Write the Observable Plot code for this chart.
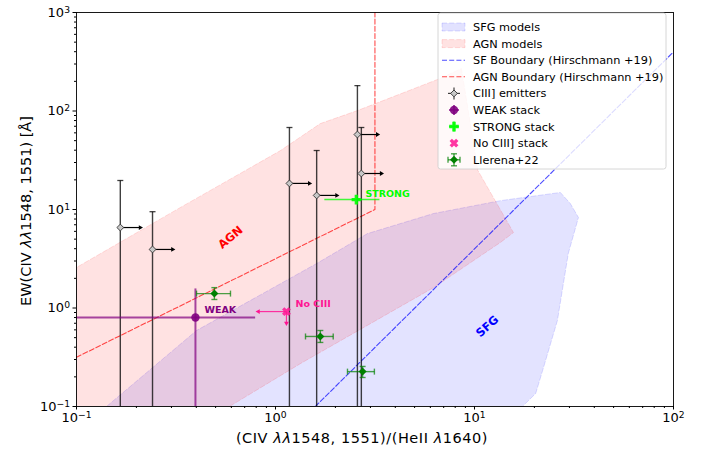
<!DOCTYPE html>
<html><head><meta charset="utf-8">
<script src="https://cdn.jsdelivr.net/npm/d3@7"></script>
<script src="https://cdn.jsdelivr.net/npm/@observablehq/plot@0.6"></script>
<style>body{margin:0;background:#fff;} svg{font-family:"DejaVu Sans";}</style>
</head><body><div id="chart"></div>
<script>
// ---------- data ----------
const sfgRatio = [0.117, 0.1415, 0.401, 1.61, 2.90, 6.22, 13.5, 27.0, 30.3, 33.3, 29.6, 26.1, 22.0, 20.3, 17.4, 16.1];
const sfgEW    = [0.072, 0.1,    0.591, 2.83, 5.70, 9.10, 12.3, 14.9, 11.5, 8.30, 3.57, 0.746, 0.232, 0.1355, 0.1, 0.072];
const agnRatio = [0.066, 0.1, 0.333, 1.06, 1.68, 2.58, 6.52, 8.6, 10.4, 15.7, 13.5, 6.22, 1.34, 0.587, 0.42, 0.066];
const agnEW    = [1.58, 2.58, 10.5, 39.7, 74.6, 101, 209, 270, 24.9, 5.83, 4.63, 1.61, 0.274, 0.1, 0.057, 0.057];
const agnBoundRatio = [0.1, 3.16, 3.16];
const agnBoundEW = [0.316, 10, 1000];
const sfBoundRatio = [1.585, 100];
const sfBoundEW = [0.1, 398];

const ciiiRatio = [0.166, 0.241, 1.175, 1.61, 2.58, 2.70];
const ciiiEW    = [6.56, 3.93, 18.4, 13.9, 57.7, 23.2];
const ciiiEWhi  = [19.7, 9.5, 68, 39.7, 181, 68];
const ciiiEWlo  = [0.01, 0.01, 0.01, 0.01, 0.01, 0.01];
const ciiiRatioLimit = [0.209, 0.304, 1.48, 2.03, 3.25, 3.40];

const weakRatio = [0.396], weakEW = [0.80];
const weakRatioLo = [0.01], weakRatioHi = [0.79];
const weakEWlo = [0.01], weakEWhi = [1.58];

const strongRatio = [2.55], strongEW = [12.6];
const strongRatioLo = [1.76], strongRatioHi = [3.33];

const noRatio = [1.135], noEW = [0.92];
const noRatioLimit = [0.82], noEWLimit = [0.70];

const llRatio   = [0.493, 1.68, 2.74];
const llEW      = [1.40, 0.514, 0.226];
const llRatioLo = [0.401, 1.415, 2.30];
const llRatioHi = [0.594, 1.95, 3.14];
const llEWlo    = [1.22, 0.447, 0.197];
const llEWhi    = [1.61, 0.591, 0.255];

const majorX = [0.1, 1, 10, 100];
const majorY = [0.1, 1, 10, 100, 1000];
const tickText = {"0.1": "10⁻¹", "1": "10⁰", "10": "10¹", "100": "10²", "1000": "10³"};
const legendLabels = ["SFG models", "AGN models", "SF Boundary (Hirschmann +19)", "AGN Boundary (Hirschmann +19)",
  "CIII] emitters", "WEAK stack", "STRONG stack", "No CIII] stack", "Llerena+22"];

// ---------- helpers ----------
const rows = (...cols) => cols[0].map((_, i) => cols.map(c => c[i]));
const minors = (lo, hi) => { const out = []; for (let e = lo; e < hi; e++) for (let m = 2; m <= 9; m++) out.push(m * Math.pow(10, e)); return out; };
const minorX = minors(-1, 2), minorY = minors(-1, 3);

const crossPts = (r, t) => [[-t,-r],[t,-r],[t,-t],[r,-t],[r,t],[t,t],[t,r],[-t,r],[-t,t],[-r,t],[-r,-t],[-t,-t]];
const polySym = (fn) => ({draw(ctx, size) { const r = Math.sqrt(size / Math.PI); const p = fn(r); ctx.moveTo(p[0][0], p[0][1]); for (let i = 1; i < p.length; i++) ctx.lineTo(p[i][0], p[i][1]); ctx.closePath(); }});
const plusSym = polySym(r => crossPts(r, r * 0.36));
const xSym = polySym(r => crossPts(r, r * 0.36).map(([a, b]) => [(a - b) * Math.SQRT1_2, (a + b) * Math.SQRT1_2]));
const diamondSym = polySym(r => [[0,-r],[r,0],[0,r],[-r,0]]);
const hcap = {draw(ctx, size) { const h = Math.sqrt(size / Math.PI); ctx.moveTo(-h, 0); ctx.lineTo(h, 0); }};
const vcap = {draw(ctx, size) { const h = Math.sqrt(size / Math.PI); ctx.moveTo(0, -h); ctx.lineTo(0, h); }};

const sfg = rows(sfgRatio, sfgEW);
const agn = rows(agnRatio, agnEW);
const agnB = rows(agnBoundRatio, agnBoundEW);
const sfB = rows(sfBoundRatio, sfBoundEW);
const ciii = ciiiRatio.map((x, i) => ({x, y: ciiiEW[i], hi: ciiiEWhi[i], lo: ciiiEWlo[i], lim: ciiiRatioLimit[i]}));
const weak = weakRatio.map((x, i) => ({x, y: weakEW[i], xlo: weakRatioLo[i], xhi: weakRatioHi[i], ylo: weakEWlo[i], yhi: weakEWhi[i]}));
const strong = strongRatio.map((x, i) => ({x, y: strongEW[i], xlo: strongRatioLo[i], xhi: strongRatioHi[i]}));
const noc = noRatio.map((x, i) => ({x, y: noEW[i], xl: noRatioLimit[i], yl: noEWLimit[i]}));
const ll = llRatio.map((x, i) => ({x, y: llEW[i], xlo: llRatioLo[i], xhi: llRatioHi[i], ylo: llEWlo[i], yhi: llEWhi[i]}));

const PURPLE = "#800080", LIME = "#00ff00", PINK = "#ff1493", GREEN = "#008000";
const DASH = "5,2.2";

const plot = Plot.plot({
  width: 702, height: 450,
  marginLeft: 76, marginRight: 29, marginTop: 12, marginBottom: 44,
  x: {type: "log", domain: [0.1, 100]},
  y: {type: "log", domain: [0.1, 1000]},
  style: {fontFamily: "DejaVu Sans", fontSize: "12px", color: "black", background: "white"},
  marks: [
    // model regions
    Plot.line(sfg, {x: "0", y: "1", curve: "linear-closed", fill: "blue", fillOpacity: 0.11, stroke: "blue", strokeOpacity: 0.13, strokeWidth: 1, strokeDasharray: DASH, clip: true}),
    Plot.line(agn, {x: "0", y: "1", curve: "linear-closed", fill: "red", fillOpacity: 0.115, stroke: "red", strokeOpacity: 0.12, strokeWidth: 1, strokeDasharray: DASH, clip: true}),
    // boundaries
    Plot.line(sfB, {x: "0", y: "1", stroke: "blue", strokeOpacity: 0.7, strokeWidth: 1.1, strokeDasharray: DASH, clip: true}),
    Plot.line(agnB, {x: "0", y: "1", stroke: "red", strokeOpacity: 0.7, strokeWidth: 1.1, strokeDasharray: DASH, clip: true}),
    // region labels
    Plot.text([{x: 0.594, y: 5.2, t: "AGN"}], {x: "x", y: "y", text: "t", fill: "red", fontWeight: "bold", fontSize: 11.5, rotate: -40}),
    Plot.text([{x: 11.6, y: 0.648, t: "SFG"}], {x: "x", y: "y", text: "t", fill: "blue", fontWeight: "bold", fontSize: 11.5, rotate: -42}),
    // CIII] emitters
    Plot.link(ciii, {x1: "x", x2: "x", y1: "lo", y2: "hi", stroke: "black", strokeOpacity: 0.75, strokeWidth: 1.4, clip: true}),
    Plot.dot(ciii, {x: "x", y: "hi", symbol: hcap, r: 3, stroke: "black", strokeOpacity: 0.75, strokeWidth: 1.3}),
    Plot.link(ciii, {x1: "x", x2: "lim", y1: "y", y2: "y", stroke: "black", strokeWidth: 1.2}),
    Plot.dot(ciii, {x: "lim", y: "y", symbol: "triangle2", rotate: 90, r: 2.3, fill: "black"}),
    Plot.dot(ciii, {x: "x", y: "y", symbol: diamondSym, r: 3.4, fill: "#c8c8c8", stroke: "#333", strokeWidth: 0.9}),
    // WEAK
    Plot.link(weak, {x1: "xlo", x2: "xhi", y1: "y", y2: "y", stroke: PURPLE, strokeOpacity: 0.7, strokeWidth: 2, clip: true}),
    Plot.link(weak, {x1: "x", x2: "x", y1: "ylo", y2: "yhi", stroke: PURPLE, strokeOpacity: 0.7, strokeWidth: 2, clip: true}),
    Plot.dot(weak, {x: "x", y: "y", r: 4.2, fill: PURPLE, fillOpacity: 0.9}),
    Plot.text([{x: 0.44, y: 0.966, t: "WEAK"}], {x: "x", y: "y", text: "t", fill: PURPLE, fontWeight: "bold", fontSize: 9.5, textAnchor: "start"}),
    // STRONG
    Plot.link(strong, {x1: "xlo", x2: "xhi", y1: "y", y2: "y", stroke: LIME, strokeOpacity: 0.75, strokeWidth: 1.5}),
    Plot.dot(strong, {x: "x", y: "y", symbol: plusSym, r: 4.8, fill: LIME, fillOpacity: 0.9}),
    Plot.text([{x: 2.83, y: 14.5, t: "STRONG"}], {x: "x", y: "y", text: "t", fill: LIME, fontWeight: "bold", fontSize: 9.5, textAnchor: "start"}),
    // No CIII]
    Plot.link(noc, {x1: "x", x2: "xl", y1: "y", y2: "y", stroke: PINK, strokeOpacity: 0.85, strokeWidth: 1.2}),
    Plot.dot(noc, {x: "xl", y: "y", symbol: "triangle2", rotate: -90, r: 2.3, fill: PINK}),
    Plot.link(noc, {x1: "x", x2: "x", y1: "y", y2: "yl", stroke: PINK, strokeOpacity: 0.85, strokeWidth: 1.2}),
    Plot.dot(noc, {x: "x", y: "yl", symbol: "triangle2", rotate: 180, r: 2.3, fill: PINK}),
    Plot.dot(noc, {x: "x", y: "y", symbol: xSym, r: 4.6, fill: PINK, fillOpacity: 0.85}),
    Plot.text([{x: 1.26, y: 1.11, t: "No CIII"}], {x: "x", y: "y", text: "t", fill: PINK, fontWeight: "bold", fontSize: 9.5, textAnchor: "start"}),
    // Llerena+22
    Plot.link(ll, {x1: "xlo", x2: "xhi", y1: "y", y2: "y", stroke: GREEN, strokeOpacity: 0.7, strokeWidth: 1.4}),
    Plot.link(ll, {x1: "x", x2: "x", y1: "ylo", y2: "yhi", stroke: GREEN, strokeOpacity: 0.7, strokeWidth: 1.4}),
    Plot.dot(ll, {x: "xlo", y: "y", symbol: vcap, r: 3, stroke: GREEN, strokeOpacity: 0.7, strokeWidth: 1.4}),
    Plot.dot(ll, {x: "xhi", y: "y", symbol: vcap, r: 3, stroke: GREEN, strokeOpacity: 0.7, strokeWidth: 1.4}),
    Plot.dot(ll, {x: "x", y: "ylo", symbol: hcap, r: 3, stroke: GREEN, strokeOpacity: 0.7, strokeWidth: 1.4}),
    Plot.dot(ll, {x: "x", y: "yhi", symbol: hcap, r: 3, stroke: GREEN, strokeOpacity: 0.7, strokeWidth: 1.4}),
    Plot.dot(ll, {x: "x", y: "y", symbol: diamondSym, r: 4, fill: GREEN}),
    // axes
    Plot.axisX({ticks: minorX, tickSize: 2, tickFormat: () => "", label: null}),
    Plot.axisY({ticks: minorY, tickSize: 2, tickFormat: () => "", label: null}),
    Plot.axisX({ticks: majorX, tickSize: 3.5, tickPadding: 3, tickFormat: d => tickText[String(d)], fontSize: 13, label: null}),
    Plot.axisY({ticks: majorY, tickSize: 3.5, tickPadding: 3, tickFormat: d => tickText[String(d)], fontSize: 13, label: null}),
    Plot.frame({stroke: "black", strokeWidth: 0.9})
  ]
});

const svg = d3.select(plot);
// tick labels as base + raised exponent
const supMap = {"⁻": "−", "⁰": "0", "¹": "1", "²": "2", "³": "3"};
svg.selectAll("text").each(function () {
  const t = this.textContent;
  const m = /^10([⁻⁰¹²³]+)$/.exec(t);
  if (!m) return;
  const exp = [...m[1]].map(c => supMap[c]).join("");
  const sel = d3.select(this);
  const parentDy = sel.attr("dy");
  const node = this;
  while (node.firstChild) node.removeChild(node.firstChild);
  sel.append("tspan").text("10");
  sel.append("tspan").attr("dy", "-0.42em").attr("font-size", "9.2px").text(exp);
});

// axis titles
const xl = svg.append("text").attr("x", 362).attr("y", 443).attr("text-anchor", "middle").attr("font-size", 14.5).attr("letter-spacing", "0.55px").attr("fill", "black");
xl.append("tspan").text("(CIV ");
xl.append("tspan").attr("font-style", "italic").text("λλ");
xl.append("tspan").text("1548, 1551)/(HeII ");
xl.append("tspan").attr("font-style", "italic").text("λ");
xl.append("tspan").text("1640)");
const yl = svg.append("text").attr("transform", "translate(31,211) rotate(-90)").attr("text-anchor", "middle").attr("font-size", 14.5).attr("fill", "black");
yl.append("tspan").text("EW(CIV ");
yl.append("tspan").attr("font-style", "italic").text("λλ");
yl.append("tspan").text("1548, 1551) [Å]");

// legend
const lg = svg.append("g").attr("text-anchor", "start");
lg.append("rect").attr("x", 438).attr("y", 13).attr("width", 228).attr("height", 156).attr("rx", 2.5)
  .attr("fill", "white").attr("fill-opacity", 0.8).attr("stroke", "#cccccc").attr("stroke-width", 0.8);
const ry = i => 27 + i * 16.6;
const cx = 454;
legendLabels.forEach((t, i) => {
  lg.append("text").attr("x", 473).attr("y", ry(i)).attr("dy", "0.36em").attr("text-anchor", "start").attr("font-size", 11.3).attr("fill", "black").text(t);
});
// patches
[["blue", 0], ["red", 1]].forEach(([c, i]) => {
  lg.append("rect").attr("x", 442).attr("y", ry(i) - 4).attr("width", 23).attr("height", 8)
    .attr("fill", c).attr("fill-opacity", 0.115).attr("stroke", c).attr("stroke-opacity", 0.13).attr("stroke-dasharray", DASH);
});
[["blue", 2], ["red", 3]].forEach(([c, i]) => {
  lg.append("line").attr("x1", 442).attr("x2", 465).attr("y1", ry(i)).attr("y2", ry(i))
    .attr("stroke", c).attr("stroke-opacity", 0.7).attr("stroke-width", 1.1).attr("stroke-dasharray", DASH);
});
const sym = (s, r) => d3.symbol(s, Math.PI * r * r)();
const seg = (x1, y1, x2, y2, c, op, w) => lg.append("line").attr("x1", x1).attr("x2", x2).attr("y1", y1).attr("y2", y2).attr("stroke", c).attr("stroke-opacity", op).attr("stroke-width", w);
const cross = (i, c, op, w, len, caps) => {
  const y = ry(i);
  seg(cx - len, y, cx + len, y, c, op, w);
  seg(cx, y - len, cx, y + len, c, op, w);
  if (caps) {
    seg(cx - len, y - 3, cx - len, y + 3, c, op, w);
    seg(cx + len, y - 3, cx + len, y + 3, c, op, w);
    seg(cx - 3, y - len, cx + 3, y - len, c, op, w);
    seg(cx - 3, y + len, cx + 3, y + len, c, op, w);
  }
};
cross(4, "black", 0.75, 1.2, 6, false);
lg.append("path").attr("transform", `translate(${cx},${ry(4)})`).attr("d", sym(diamondSym, 3.4)).attr("fill", "#c8c8c8").attr("stroke", "#333").attr("stroke-width", 0.9);
cross(5, PURPLE, 0.7, 2, 5, false);
lg.append("path").attr("transform", `translate(${cx},${ry(5)})`).attr("d", sym(d3.symbolCircle, 4.2)).attr("fill", PURPLE).attr("fill-opacity", 0.9);
cross(6, LIME, 0.75, 1.5, 5, false);
lg.append("path").attr("transform", `translate(${cx},${ry(6)})`).attr("d", sym(plusSym, 4.8)).attr("fill", LIME).attr("fill-opacity", 0.9);
lg.append("path").attr("transform", `translate(${cx},${ry(7)})`).attr("d", sym(xSym, 4.6)).attr("fill", PINK).attr("fill-opacity", 0.85);
cross(8, GREEN, 0.7, 1.4, 6, true);
lg.append("path").attr("transform", `translate(${cx},${ry(8)})`).attr("d", sym(diamondSym, 4)).attr("fill", GREEN);

document.getElementById("chart").appendChild(plot);
</script>
</body></html>
